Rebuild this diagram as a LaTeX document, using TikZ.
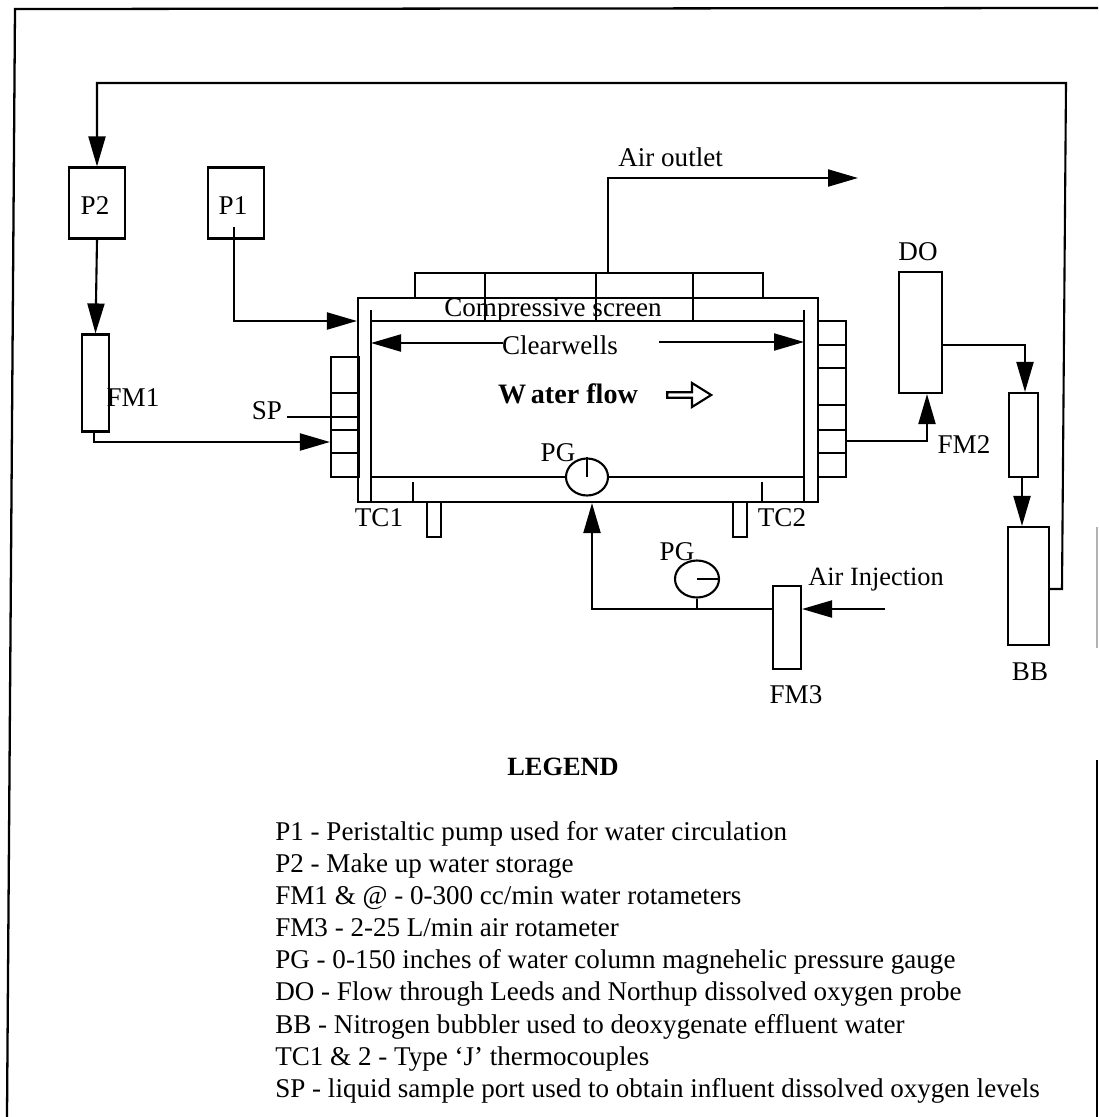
\documentclass[tikz,border=0pt]{standalone}
\usepackage{fontspec}
\setmainfont{Liberation Serif}
\usetikzlibrary{arrows.meta,shapes.arrows,shapes.geometric}
\begin{document}
\begin{tikzpicture}[x=0.2mm,y=-0.2mm,
  unit/.style={draw, line width=1.2pt, minimum width=0pt, minimum height=0pt, inner sep=0pt},
  gauge/.style={draw, ellipse, line width=1.2pt, inner sep=0pt},
  lbl/.style={font=\fontsize{15.4}{17}\selectfont, inner sep=0pt, anchor=base},
  legendline/.style={font=\fontsize{15.4}{17}\selectfont, inner sep=0pt, anchor=base west},
  pipe/.style={line width=1.2pt},
  arr/.style={line width=1.2pt, -{Triangle[length=6mm,width=3.4mm]}}]
  \useasboundingbox (0,0) rectangle (1098,1117);
  % page frame
  \coordinate (fa) at (1098,8);
  \coordinate (fb) at (15,9);
  \coordinate (fc) at (7,1117);
  \draw[line width=1.3pt] (fa) -- (fb) -- (fc);
  \coordinate (fd) at (1097,760);
  \coordinate (fe) at (1097,1117);
  \draw[line width=1.3pt] (fd) -- (fe);
  \coordinate (ff) at (1097,527);
  \coordinate (fg) at (1097,648);
  \draw[line width=0.8pt, black!30] (ff) -- (fg);
  % pumps and rotameters
  \node[unit, minimum width=11.2mm, minimum height=14.2mm] (p2) at (97,203) {};
  \node[lbl] (p2t) at (95,214) {P2};
  \node[unit, minimum width=11.2mm, minimum height=14.2mm] (p1) at (236,203) {};
  \node[lbl] (p1t) at (233,214) {P1};
  \node[unit, minimum width=5.4mm, minimum height=19.4mm] (fm1) at (95.5,383) {};
  \node[lbl] (fm1t) at (133,406) {FM1};
  \node[unit, minimum width=8.6mm, minimum height=24.2mm] (do) at (920.5,332.5) {};
  \node[lbl] (dot) at (918,260) {DO};
  \node[unit, minimum width=5.8mm, minimum height=16.8mm] (fm2) at (1023.5,435) {};
  \node[lbl] (fm2t) at (964,453) {FM2};
  \node[unit, minimum width=8.2mm, minimum height=23.6mm] (bb) at (1028.5,586) {};
  \node[lbl] (bbt) at (1030,680) {BB};
  \node[unit, minimum width=5.6mm, minimum height=16.6mm] (fm3) at (787,627.5) {};
  \node[lbl] (fm3t) at (796,703) {FM3};
  % tank
  \node[unit, minimum width=92mm, minimum height=40.8mm] (tank) at (588,400) {};
  \coordinate (il) at (371,310);
  \coordinate (ilb) at (371,502);
  \coordinate (ir) at (804,310);
  \coordinate (irb) at (804,502);
  \draw[pipe] (il) -- (ilb) (ir) -- (irb);
  \coordinate (st) at (371,321);
  \coordinate (sr) at (804,321);
  \draw[pipe] (st) -- (sr);
  % top cells
  \node[unit, minimum width=69.6mm, minimum height=5mm] (stack) at (589,285.5) {};
  \foreach \xc in {485,596,693} \draw[pipe] (\xc,273) -- (\xc,321);
  % side cells
  \node[unit, minimum width=5.6mm, minimum height=24mm] (lcell) at (345,417) {};
  \foreach \yc in {393,430,453} \draw[pipe] (331,\yc) -- (359,\yc);
  \node[unit, minimum width=5.6mm, minimum height=31.2mm] (rcell) at (832,399) {};
  \foreach \yc in {345,368,405,430,453} \draw[pipe] (818,\yc) -- (846,\yc);
  % legs and thermocouples
  \node[unit, minimum width=2.8mm, minimum height=7mm] (legl) at (434,519.5) {};
  \node[unit, minimum width=2.8mm, minimum height=7mm] (legr) at (740,519.5) {};
  \draw[pipe] (413,482) -- (413,502) (762,482) -- (762,502);
  \node[lbl] (tc1) at (379,526) {TC1};
  \node[lbl] (tc2) at (782,526) {TC2};
  % gauges
  \node[gauge, minimum width=8.4mm, minimum height=7.4mm] (pgc) at (587,477) {};
  \node[lbl] (pgct) at (558,461) {PG};
  \coordinate (bl) at (371,477);
  \coordinate (br) at (804,477);
  \draw[pipe] (bl) -- (pgc) -- (br);
  \draw[pipe] (pgc.north) -- (pgc.center);
  \node[gauge, minimum width=8.8mm, minimum height=7.4mm] (pga) at (697,579) {};
  \node[lbl] (pgat) at (677,560) {PG};
  \draw[pipe] (pga.center) -- (pga.east);
  % labels in the tank
  \node[lbl] (scr) at (553,316) {Compressive screen};
  \node[lbl] (cw) at (560,354) {Clearwells};
  \node[lbl, font=\fontsize{16}{18}\selectfont\bfseries] (wf) at (568,403) {W\,ater flow};
  \node[draw, single arrow, line width=1.2pt, minimum width=4.8mm, minimum height=8.8mm,
        single arrow head extend=0.7mm, single arrow tip angle=64, inner sep=0pt] (wfa) at (687,395) {};
  \coordinate (cwl) at (503,343);
  \coordinate (cwr) at (659,342);
  \draw[arr] (cwl) -- (il |- cwl);
  \draw[arr] (cwr) -- (ir |- cwr);
  % water lines
  \coordinate (topl) at (97,83);
  \coordinate (topr) at (1066,83);
  \coordinate (bbout) at (1062,589);
  \draw[arr] (bbout -| bb.east) -- (bbout) -- (topr) -- (topl) -- (p2.north);
  \draw[arr] (p2.south) -- (fm1.north);
  \coordinate (p1s) at (234,227);
  \coordinate (p1c) at (234,321);
  \draw[arr] (p1s) -- (p1c) -- (tank.west |- p1c);
  \coordinate (fm1c) at (94,442);
  \draw[arr] (fm1.south -| fm1c) -- (fm1c) -- (lcell.west |- fm1c);
  \node[lbl] (sp) at (267,419) {SP};
  \coordinate (spe) at (287,417);
  \draw[pipe] (spe) -- (tank.west |- spe);
  \coordinate (rc) at (846,441);
  \coordinate (rd) at (927,441);
  \draw[arr] (rc) -- (rd) -- (do.south -| rd);
  \coordinate (dr) at (1025,345);
  \draw[arr] (do.east |- dr) -- (dr) -- (fm2.north -| dr);
  \coordinate (fb2) at (1022,500);
  \draw[arr] (fm2.south -| fb2) -- (bb.north -| fb2);
  % air lines
  \coordinate (ao) at (608,178);
  \coordinate (aoe) at (858,178);
  \draw[arr] (stack.north -| ao) -- (ao) -- (aoe);
  \node[lbl, anchor=base west] (aot) at (618,166) {Air outlet};
  \coordinate (aie) at (885,609);
  \draw[arr] (aie) -- (fm3.east |- aie);
  \node[lbl, anchor=base west, font=\fontsize{15}{17}\selectfont] (ait) at (808,585) {Air Injection};
  \coordinate (fmc) at (592,609);
  \draw[arr] (fm3.west |- fmc) -- (fmc) -- (fmc |- tank.south);
  \draw[pipe] (pga.south) -- (pga.south |- fmc);
  % legend
  \node[lbl, font=\fontsize{15}{17}\selectfont\bfseries] (lg) at (563,775) {LEGEND};
  \foreach \yl/\tl in {840/{P1 - Peristaltic pump used for water circulation},
      872/{P2 - Make up water storage},
      904/{FM1 \& @ - 0-300 cc/min water rotameters},
      936/{FM3 - 2-25 L/min air rotameter},
      968/{PG - 0-150 inches of water column magnehelic pressure gauge},
      1000/{DO - Flow through Leeds and Northup dissolved oxygen probe},
      1033/{BB - Nitrogen bubbler used to deoxygenate effluent water},
      1065/{TC1 \& 2 - Type ‘J’ thermocouples},
      1097/{SP - liquid sample port used to obtain influent dissolved oxygen levels}}
    \node[legendline] at (275,\yl) {\tl};
\end{tikzpicture}
\end{document}
